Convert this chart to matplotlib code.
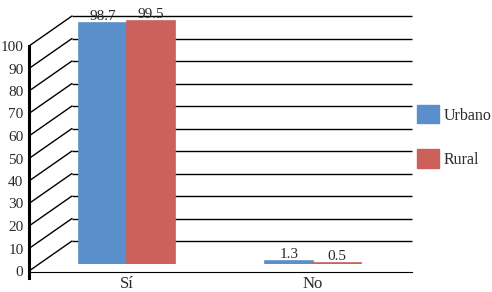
import matplotlib
matplotlib.use("Agg")
import matplotlib.pyplot as plt
from matplotlib.patches import Patch, ConnectionPatch

plt.rcParams['font.family'] = ['Liberation Serif', 'DejaVu Serif']
plt.rcParams['font.size'] = 10

categories = ["Sí", "No"]
series = ["Urbano", "Rural"]
urbano = [98.7, 1.3]
rural = [99.5, 0.5]
yticks = list(range(0, 101, 10))

blue = "#5B8FCB"
red = "#CC605A"
txt = "#2a2a2a"

W, H = 492, 292
fig = plt.figure(figsize=(W / 100, H / 100), dpi=100)


def box(x0, x1, ytop, ybot):
    # pixel box -> figure fraction
    return [x0 / W, 1 - ybot / H, (x1 - x0) / W, (ybot - ytop) / H]


# back wall with gridlines
ax_back = fig.add_axes(box(72, 412, 16, 241))
ax_back.set_xlim(0, 1)
ax_back.set_ylim(0, 100)
ax_back.hlines(yticks, 0, 1, color="black", lw=1, clip_on=False)
ax_back.axis("off")

# front axis and floor line
ax_front = fig.add_axes(box(29, 412, 46, 271))
ax_front.set_ylim(0, 100)
ax_front.set_facecolor("none")
for s in ["top", "right"]:
    ax_front.spines[s].set_visible(False)
ax_front.spines["left"].set_linewidth(2.2)
ax_front.spines["left"].set_bounds(-3, 100)
ax_front.spines["bottom"].set_position(("data", -0.5))
ax_front.set_xticks([])
ax_front.set_yticks(yticks)
ax_front.tick_params(axis="y", length=0, pad=4, labelcolor=txt, labelsize=11)

# diagonals joining front axis to back wall
for v in yticks:
    con = ConnectionPatch(xyA=(0, v), coordsA=ax_front.get_yaxis_transform(),
                          xyB=(0, v), coordsB=ax_back.get_yaxis_transform(),
                          color="black", lw=1)
    fig.add_artist(con)

# bars
ax_bars = fig.add_axes(box(29, 412, 19.5, 264))
ax_bars.set_xlim(-0.527, 1.532)
ax_bars.set_ylim(0, 100)
ax_bars.set_facecolor("none")
ax_bars.axis("off")
w = 0.258
xs = range(len(categories))
for vals, col, off in [(urbano, blue, -w / 2), (rural, red, w / 2)]:
    for x, v in zip(xs, vals):
        ax_bars.bar(x + off, v, width=w, color=col, edgecolor=col, lw=1.2, zorder=3)
        ax_bars.annotate(f"{v}", (x + off, v), xytext=(0, 0),
                         textcoords="offset points", ha="center", va="bottom",
                         color=txt, fontsize=11, zorder=4)
for x, c in zip(xs, categories):
    ax_bars.annotate(c, (x, 0), xytext=(0, -9), textcoords="offset points",
                     ha="center", va="top", color=txt, fontsize=12,
                     annotation_clip=False)

handles = [Patch(color=blue), Patch(color=red)]
fig.legend(handles, series, loc="upper left", bbox_to_anchor=(417 / W, 1 - 105 / H),
           frameon=False, borderpad=0, borderaxespad=0, handlelength=1.4,
           handleheight=1.4, handletextpad=0.25, labelspacing=1.6,
           fontsize=11.5, labelcolor=txt)

fig.savefig("out.png", dpi=100)
